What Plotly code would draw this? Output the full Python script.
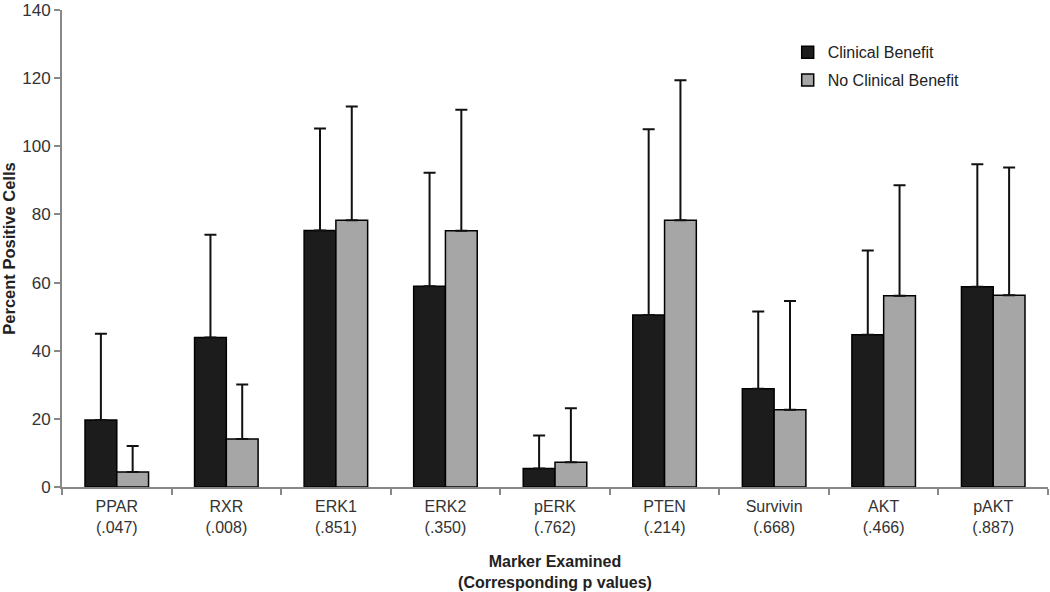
import plotly.graph_objects as go

markers = ["PPAR", "RXR", "ERK1", "ERK2", "pERK", "PTEN", "Survivin", "AKT", "pAKT"]
p_values = [".047", ".008", ".851", ".350", ".762", ".214", ".668", ".466", ".887"]
benefit = [19.7, 43.9, 75.3, 58.9, 5.4, 50.5, 28.8, 44.7, 58.8]
benefit_sd = [25.3, 30.1, 29.9, 33.3, 9.7, 54.5, 22.7, 24.7, 35.9]
no_benefit = [4.4, 14.1, 78.3, 75.2, 7.3, 78.3, 22.7, 56.1, 56.3]
no_benefit_sd = [7.6, 16.0, 33.4, 35.5, 15.8, 41.1, 31.9, 32.5, 37.5]

labels = [f"{m}<br>({p})" for m, p in zip(markers, p_values)]
zeros = [0] * len(markers)

fig = go.Figure()
fig.add_trace(go.Bar(
    name="Clinical Benefit", x=labels, y=benefit, legendgroup="a",
    marker=dict(color="#1c1c1c", line=dict(color="#000000", width=1.5)),
    error_y=dict(type="data", symmetric=False, array=benefit_sd, arrayminus=zeros,
                 color="#111111", thickness=2, width=6),
))
fig.add_trace(go.Bar(
    name="No Clinical Benefit", x=labels, y=no_benefit, legendgroup="b",
    marker=dict(color="#a6a6a6", line=dict(color="#000000", width=1.5)),
    error_y=dict(type="data", symmetric=False, array=no_benefit_sd, arrayminus=zeros,
                 color="#111111", thickness=2, width=6),
))

fig.update_layout(
    width=1050, height=592,
    paper_bgcolor="white", plot_bgcolor="white",
    margin=dict(l=62, r=2, t=10, b=105),
    barmode="group", bargap=0.42, bargroupgap=0,
    font=dict(family="Arial, Liberation Sans, sans-serif", size=16, color="#333333"),
    legend=dict(x=0.736, y=0.947, xanchor="left", yanchor="top",
                bgcolor="rgba(0,0,0,0)", font=dict(size=16, color="#222222"),
                tracegroupgap=4),
    showlegend=True,
)
fig.update_xaxes(
    automargin=False,
    showline=True, linecolor="#888888", linewidth=2,
    ticks="outside", tickson="boundaries", ticklen=6, tickcolor="#888888", tickwidth=2,
    tickfont=dict(size=16, color="#333333"), ticklabelstandoff=4,
    title=dict(text="<b>Marker Examined<br>(Corresponding p values)</b>",
               font=dict(size=16, color="#222222"), standoff=21),
    showgrid=False,
)
fig.update_yaxes(
    automargin=False, ticklabeloverflow="allow",
    range=[0, 140], dtick=20, tick0=0,
    showline=True, linecolor="#888888", linewidth=2,
    ticks="outside", ticklen=6, tickcolor="#888888", tickwidth=2,
    tickfont=dict(size=17, color="#333333"),
    title=dict(text="<b>Percent Positive Cells</b>", font=dict(size=16.5, color="#222222"), standoff=8),
    showgrid=False, zeroline=False,
)

# remove the page's default body margin so the figure fills the window exactly
fig.write_html("out.html", config={"displayModeBar": False},
               post_script="document.body.style.margin='0';")
